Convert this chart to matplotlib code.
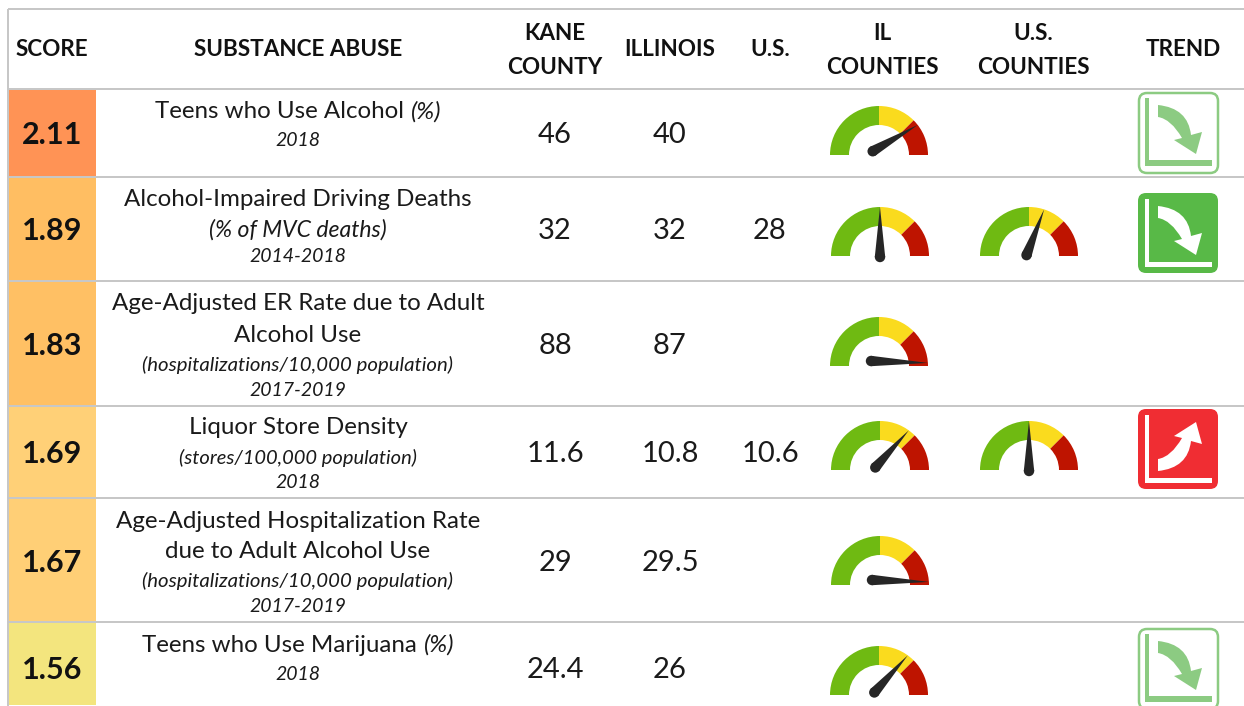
import numpy as np
import matplotlib
matplotlib.use("Agg")
from matplotlib import pyplot as plt
from matplotlib.patches import Wedge, FancyBboxPatch, PathPatch, Circle, Polygon, Rectangle
from matplotlib.path import Path

plt.rcParams["font.family"] = ["Lato", "DejaVu Sans"]

scores = ["2.11", "1.89", "1.83", "1.69", "1.67", "1.56"]
score_colors = ["#FF9355", "#FFBE62", "#FFC064", "#FFD077", "#FFCF76", "#F3E57E"]
kane = ["46", "32", "88", "11.6", "29", "24.4"]
illinois = ["40", "32", "87", "10.8", "29.5", "26"]
us = ["", "28", "", "10.6", "", ""]
il_gauge = [0.79, 0.50, 0.98, 0.70, 0.98, 0.70]
us_gauge = [None, 0.60, None, 0.50, None, None]
trend = ["down_light", "down_solid", None, "up_red", None, "down_light"]
titles = [
    [("Teens who Use Alcohol", "(%)")],
    [("Alcohol-Impaired Driving Deaths", "")],
    [("Age-Adjusted ER Rate due to Adult", ""), ("Alcohol Use", "")],
    [("Liquor Store Density", "")],
    [("Age-Adjusted Hospitalization Rate", ""), ("due to Adult Alcohol Use", "")],
    [("Teens who Use Marijuana", "(%)")],
]
subtitles = [
    ["2018"],
    ["(% of MVC deaths)", "2014-2018"],
    ["(hospitalizations/10,000 population)", "2017-2019"],
    ["(stores/100,000 population)", "2018"],
    ["(hospitalizations/10,000 population)", "2017-2019"],
    ["2018"],
]

# layout, in pixels of the 1244x706 picture
row_lines = [89, 177, 281, 406, 498, 622]
row_bottoms = [177, 281, 406, 498, 622, 706]
value_y = [135, 231, 346, 454, 563, 670]
title_y = [[112], [200], [304, 335], [428], [522, 552], [645]]
sub_y = [[141], [230, 257], [365, 391], [458, 483], [581, 607], [675]]
sub_size = [[14], [16.6, 14], [14.7, 14], [14.5, 14], [14.7, 14], [14]]
gauge_x = [879, 880, 879, 880, 880, 879]
gauge_y = [155, 256, 366, 470, 585, 695]
icon_top = [92, 193, None, 409, None, 628]
LINE = "#C6C6C6"
TEXT = "#1A1A1A"

fig = plt.figure(figsize=(12.44, 7.06), dpi=100)
ax = fig.add_axes([0, 0, 1, 1])
ax.set_xlim(0, 1244)
ax.set_ylim(706, 0)
ax.axis("off")


def gauge(cx, cy, value):
    # the y axis is flipped, so angles run clockwise from the right
    R, r = 49, 30
    ax.add_patch(Wedge((cx, cy), R, 180, 270, width=R - r, fc="#6FBA12", lw=0))
    ax.add_patch(Wedge((cx, cy), R, 270, 315, width=R - r, fc="#FADB1E", lw=0))
    ax.add_patch(Wedge((cx, cy), R, 315, 360, width=R - r, fc="#BE1400", lw=0))
    th = np.pi * (1 - value)
    tip = (cx + 49 * np.cos(th), cy - 49 * np.sin(th))
    px = cx - 8 * np.cos(th)
    py = cy + 1 - 6 * np.cos(th)
    nx, ny = -(tip[1] - py), tip[0] - px
    n = np.hypot(nx, ny)
    nx, ny = nx / n * 5.2, ny / n * 5.2
    ax.add_patch(Polygon([tip, (px + nx, py + ny), (px - nx, py - ny)], fc="#262626", lw=0, zorder=3))
    ax.add_patch(Circle((px, py), 5.2, fc="#262626", lw=0, zorder=3))


def icon(x0, y0, kind):
    if kind == "down_light":
        fg = "#8CCB82"
        box = FancyBboxPatch((x0 + 1, y0 + 1), 79, 80, boxstyle="round,pad=0,rounding_size=8", fc="white", ec=fg, lw=1.8)
        bar, base = 4, 6
    else:
        fg = "white"
        bg = "#58B947" if kind == "down_solid" else "#F02D33"
        box = FancyBboxPatch((x0 + 7, y0 + 7), 66, 66, boxstyle="round,pad=7,rounding_size=8", fc=bg, lw=0)
        bar, base = 3.5, 5
    ax.add_patch(box)
    # axes of the little chart
    ax.add_patch(Polygon([(x0 + 7, y0 + 6), (x0 + 7 + bar, y0 + 6), (x0 + 7 + bar, y0 + 74 - base),
                          (x0 + 74, y0 + 74 - base), (x0 + 74, y0 + 74), (x0 + 7, y0 + 74)], fc=fg, lw=0))
    verts = [(20, 13), (50, 16), (53, 43), (64, 40), (58, 62), (36, 48), (44, 46), (33, 27), (20, 25), (20, 13)]
    codes = [Path.MOVETO, Path.CURVE3, Path.CURVE3, Path.LINETO, Path.LINETO, Path.LINETO, Path.LINETO,
             Path.CURVE3, Path.CURVE3, Path.CLOSEPOLY]
    if kind == "up_red":
        verts = [(x, 75 - y) for x, y in verts]
    verts = [(x0 + x, y0 + y) for x, y in verts]
    ax.add_patch(PathPatch(Path(verts, codes), fc=fg, lw=0))


def mixed_line(cx, y, plain, ital, size):
    t1 = ax.text(0, y, plain, fontsize=size, color=TEXT, ha="left", va="center")
    if not ital:
        t1.set_position((cx, y))
        t1.set_ha("center")
        return
    t2 = ax.text(0, y, ital, fontsize=size, color=TEXT, ha="left", va="center", style="italic")
    rend = fig.canvas.get_renderer()
    w1 = t1.get_window_extent(rend).width + 7
    w2 = t2.get_window_extent(rend).width
    t1.set_position((cx - (w1 + w2) / 2, y))
    t2.set_position((cx - (w1 + w2) / 2 + w1, y))


# grid lines
ax.plot([8, 1244], [9, 9], color=LINE, lw=1.4, solid_capstyle="butt")
ax.plot([8, 8], [9, 706], color=LINE, lw=1.4, solid_capstyle="butt")
for y in row_lines:
    ax.plot([8, 1244], [y, y], color=LINE, lw=1.4, solid_capstyle="butt")

# header
for x, y, s in [(52, 50, "SCORE"), (298, 50, "SUBSTANCE ABUSE"), (555, 34, "KANE"), (555, 67, "COUNTY"),
                (670, 50, "ILLINOIS"), (770, 50, "U.S."), (882, 34, "IL"), (882, 67, "COUNTIES"),
                (1033, 34, "U.S."), (1033, 67, "COUNTIES"), (1183, 50, "TREND")]:
    ax.text(x, y, s, fontsize=16.2, fontweight="bold", color="#111111", ha="center", va="center")

for i in range(len(scores)):
    top = row_lines[i]
    ax.add_patch(Rectangle((9, top + 1), 87, row_bottoms[i] - top - 2, fc=score_colors[i], lw=0))
    ax.text(52, value_y[i], scores[i], fontsize=22, fontweight="bold", color="#111111", ha="center", va="center")
    for y, (plain, ital) in zip(title_y[i], titles[i]):
        mixed_line(298, y, plain, ital, 17.35)
    for y, s, fs in zip(sub_y[i], subtitles[i], sub_size[i]):
        ax.text(298, y, s, fontsize=fs, style="italic", color=TEXT, ha="center", va="center")
    ax.text(555, value_y[i], kane[i], fontsize=21, color=TEXT, ha="center", va="center")
    ax.text(670, value_y[i], illinois[i], fontsize=21, color=TEXT, ha="center", va="center")
    if us[i]:
        ax.text(770, value_y[i], us[i], fontsize=21, color=TEXT, ha="center", va="center")
    gauge(gauge_x[i], gauge_y[i], il_gauge[i])
    if us_gauge[i] is not None:
        gauge(1029, gauge_y[i], us_gauge[i])
    if trend[i]:
        icon(1138, icon_top[i], trend[i])

fig.savefig("out.png", dpi=100)
